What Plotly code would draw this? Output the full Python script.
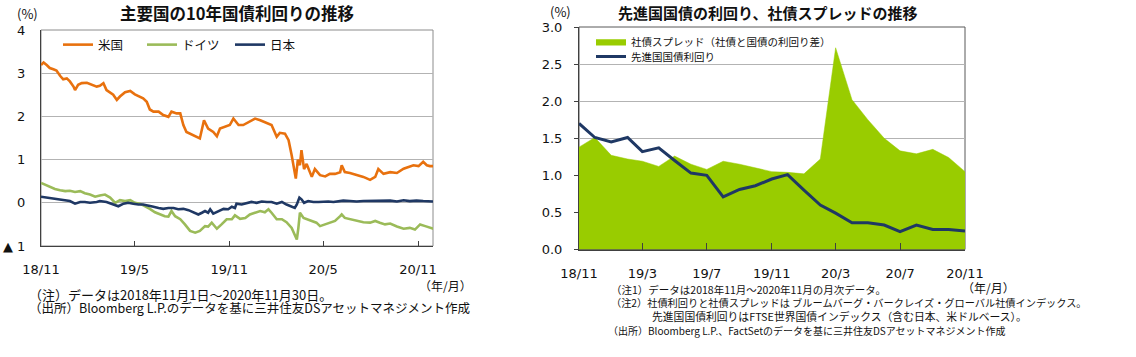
import pandas as pd
import plotly.graph_objects as go

# ---------------- Left chart data (days since 2018-11-01, yield %) ----------------
us_days = [0,5,11,17,24,30,37,43,50,56,63,66,72,79,89,98,108,114,121,127,140,147,153,163,173,182,192,198,205,211,218,228,237,247,253,263,270,276,282,289,299,308,316,324,334,341,347,357,366,373,383,392,405,415,425,438,447,457,463,473,480,486,490,494,498,502,505,510,515,525,531,541,551,560,570,580,583,589,599,612,625,638,648,654,664,677,690,703,712,722,732,741,748,754,761]
us_vals = [3.19,3.25,3.19,3.12,3.09,3.06,2.94,2.86,2.88,2.81,2.69,2.61,2.73,2.77,2.78,2.74,2.69,2.71,2.77,2.61,2.50,2.38,2.46,2.56,2.59,2.51,2.46,2.42,2.34,2.16,2.11,2.11,2.03,1.99,2.11,2.07,2.07,1.80,1.64,1.60,1.53,1.49,1.91,1.72,1.64,1.54,1.72,1.76,1.80,1.95,1.80,1.80,1.88,1.95,1.91,1.84,1.80,1.53,1.62,1.60,1.45,1.10,0.83,0.56,1.00,0.87,1.22,0.78,0.90,0.60,0.78,0.64,0.61,0.67,0.67,0.71,0.87,0.71,0.69,0.64,0.60,0.53,0.60,0.78,0.67,0.71,0.69,0.79,0.83,0.87,0.85,0.95,0.87,0.85,0.85]

de_days = [0,8,17,27,37,47,56,66,76,85,95,105,114,124,134,144,153,163,173,182,192,202,211,221,231,240,247,253,260,270,279,289,299,308,318,324,331,341,350,360,370,376,386,396,405,415,425,434,441,447,457,467,476,486,492,496,499,502,509,515,525,534,541,551,560,570,580,583,589,599,612,625,638,648,657,667,677,690,703,715,725,735,745,754,761]
de_vals = [0.46,0.42,0.37,0.32,0.29,0.27,0.28,0.25,0.27,0.22,0.19,0.14,0.17,0.19,0.12,0.00,0.06,0.04,0.06,0.00,-0.02,-0.08,-0.14,-0.22,-0.27,-0.31,-0.32,-0.19,-0.31,-0.38,-0.50,-0.65,-0.69,-0.65,-0.54,-0.55,-0.46,-0.60,-0.50,-0.38,-0.38,-0.29,-0.37,-0.35,-0.27,-0.23,-0.19,-0.22,-0.15,-0.23,-0.38,-0.38,-0.45,-0.58,-0.77,-0.85,-0.58,-0.23,-0.35,-0.38,-0.42,-0.46,-0.54,-0.50,-0.46,-0.42,-0.31,-0.27,-0.35,-0.38,-0.42,-0.45,-0.46,-0.42,-0.46,-0.50,-0.48,-0.55,-0.60,-0.58,-0.62,-0.50,-0.54,-0.58,-0.60]

jp_days = [0,11,21,30,43,56,66,76,85,95,108,114,127,140,150,160,169,179,189,198,208,218,228,237,247,257,266,276,286,295,305,312,318,324,328,334,344,354,363,370,376,379,389,399,408,418,428,438,447,457,467,476,486,492,496,501,505,510,518,528,538,547,557,567,576,586,599,612,625,638,651,664,677,690,703,715,728,741,754,761]
jp_vals = [0.14,0.12,0.09,0.08,0.06,0.04,-0.02,0.02,0.02,0.00,0.02,0.04,0.02,-0.04,-0.08,-0.02,0.00,-0.02,-0.04,-0.04,-0.06,-0.09,-0.12,-0.14,-0.12,-0.12,-0.15,-0.14,-0.17,-0.22,-0.27,-0.23,-0.19,-0.23,-0.15,-0.25,-0.19,-0.14,-0.15,-0.09,-0.12,-0.02,-0.04,0.00,0.02,0.00,0.03,0.02,0.02,-0.02,0.02,-0.04,-0.08,-0.12,-0.04,0.12,0.08,0.00,0.04,0.02,0.02,0.03,0.03,0.02,0.04,0.05,0.04,0.03,0.04,0.04,0.05,0.04,0.05,0.03,0.06,0.04,0.05,0.04,0.03,0.03]

left_start = "2018-11-01"
left_end = "2020-11-30"
left_tickvals = ["2018-11-01", "2019-05-01", "2019-11-01", "2020-05-01", "2020-11-01"]
left_ticktext = ["18/11", "19/5", "19/11", "20/5", "20/11"]
left_yvals = [-1, 0, 1, 2, 3, 4]
left_ytext = ["▲ 1", "0", "1", "2", "3", "4"]

# ---------------- Right chart data (monthly) ----------------
months = ["2018-11","2018-12","2019-01","2019-02","2019-03","2019-04","2019-05","2019-06","2019-07","2019-08","2019-09","2019-10","2019-11","2019-12","2020-01","2020-02","2020-03","2020-04","2020-05","2020-06","2020-07","2020-08","2020-09","2020-10","2020-11"]
spread = [1.38,1.51,1.27,1.22,1.19,1.12,1.26,1.15,1.08,1.19,1.15,1.10,1.05,1.04,1.02,1.22,2.72,2.02,1.75,1.50,1.33,1.29,1.35,1.24,1.05]
gov_yield = [1.70,1.51,1.45,1.51,1.32,1.37,1.20,1.03,1.00,0.71,0.81,0.86,0.95,1.01,0.80,0.60,0.49,0.36,0.36,0.33,0.24,0.33,0.27,0.27,0.25]
right_tickvals = ["2018-11","2019-03","2019-07","2019-11","2020-03","2020-07","2020-11"]
right_ticktext = ["18/11","19/3","19/7","19/11","20/3","20/7","20/11"]

FONT = "Noto Sans CJK JP"
TICKFONT = dict(family="DejaVu Sans", size=13, color="#111111")
ORANGE = "#E8710E"
GREEN = "#9BBB59"
NAVY = "#1F3864"
AREA = "#99CC00"
GRID = "#B3B3B3"
AXIS = "#404040"

start = pd.Timestamp(left_start)
to_dates = lambda d: [start + pd.Timedelta(days=int(x)) for x in d]

fig = go.Figure()
fig.add_trace(go.Scatter(x=to_dates(us_days), y=us_vals, mode="lines", name="米国",
                         line=dict(color=ORANGE, width=2.6), xaxis="x", yaxis="y", legend="legend"))
fig.add_trace(go.Scatter(x=to_dates(de_days), y=de_vals, mode="lines", name="ドイツ",
                         line=dict(color=GREEN, width=2.6), xaxis="x", yaxis="y", legend="legend3"))
fig.add_trace(go.Scatter(x=to_dates(jp_days), y=jp_vals, mode="lines", name="日本",
                         line=dict(color=NAVY, width=2.6), xaxis="x", yaxis="y", legend="legend4"))

fig.add_trace(go.Scatter(x=months, y=spread, mode="lines", name="社債スプレッド（社債と国債の利回り差）",
                         fill="tozeroy", fillcolor=AREA, line=dict(color=AREA, width=0.5),
                         xaxis="x2", yaxis="y2", legend="legend2"))
fig.add_trace(go.Scatter(x=months, y=gov_yield, mode="lines", name="先進国国債利回り",
                         line=dict(color=NAVY, width=3), xaxis="x2", yaxis="y2", legend="legend5"))

W, H = 1136, 357
def px_x(p): return p / W
def px_y(p): return 1 - p / H

def leg(x, y, size):
    return dict(orientation="v", x=px_x(x), y=px_y(y), xanchor="left", yanchor="top",
                bgcolor="rgba(0,0,0,0)", font=dict(family=FONT, size=size, color="#111111"),
                itemwidth=30, tracegroupgap=0)

fig.update_layout(
    width=W, height=H, margin=dict(l=0, r=0, t=0, b=0, autoexpand=False),
    paper_bgcolor="white", plot_bgcolor="white",
    font=dict(family=FONT, size=14, color="#111111"),
    showlegend=True,
    xaxis=dict(domain=[px_x(41), px_x(433)], type="date", range=[left_start, left_end],
               tickvals=left_tickvals, ticktext=left_ticktext, ticks="inside", ticklen=5,
               tickcolor=AXIS, showline=True, linecolor=AXIS, linewidth=1, showgrid=False,
               zeroline=False, ticklabelstandoff=11, anchor="y", automargin=False, tickfont=TICKFONT),
    yaxis=dict(domain=[px_y(246), px_y(30)], range=[-1, 4], tickvals=left_yvals, ticktext=left_ytext,
               showline=True, linecolor=AXIS, linewidth=1, showgrid=True, gridcolor=GRID,
               zeroline=False, ticks="", ticklabelstandoff=12, anchor="x", automargin=False,
               tickfont=TICKFONT),
    xaxis2=dict(domain=[px_x(579), px_x(965)], type="date", range=["2018-11-01", "2020-11-01"],
                tickvals=right_tickvals, ticktext=right_ticktext, ticks="inside", ticklen=7,
                tickcolor=AXIS, showline=True, linecolor=AXIS, linewidth=1, showgrid=False,
                zeroline=False, ticklabelstandoff=12, anchor="y2", automargin=False, tickfont=TICKFONT),
    yaxis2=dict(domain=[px_y(249.5), px_y(27)], range=[0, 3], dtick=0.5, tickformat=".1f",
                showline=True, linecolor=AXIS, linewidth=1, showgrid=True, gridcolor=GRID,
                zeroline=False, ticks="outside", ticklen=4, tickcolor=AXIS, ticklabelstandoff=9,
                anchor="x2", automargin=False, tickfont=TICKFONT),
    legend=leg(58, 30, 12.5),
    legend3=leg(142, 30, 12.5),
    legend4=leg(230, 30, 12.5),
    legend2=leg(591, 27, 10.5),
    legend5=leg(591, 42, 10.5),
    shapes=[
        dict(type="rect", xref="x domain", yref="y domain", x0=0, x1=1, y0=0, y1=1,
             line=dict(color="#8C8C8C", width=1), layer="below"),
        dict(type="rect", xref="x2 domain", yref="y2 domain", x0=0, x1=1, y0=0, y1=1,
             line=dict(color="#595959", width=1), layer="below"),
    ],
)

ann = []
def text(x, y, s, size=13, bold=False, anchor="left"):
    ann.append(dict(x=px_x(x), y=px_y(y), xref="paper", yref="paper", text=("<b>%s</b>" % s) if bold else s,
                    showarrow=False, xanchor=anchor, yanchor="middle", align=anchor,
                    font=dict(family=FONT, size=size, color="#111111")))

text(237, 13, "主要国の10年国債利回りの推移", size=16.5, bold=True, anchor="center")
text(767, 13, "先進国国債の利回り、社債スプレッドの推移", size=15, bold=True, anchor="center")
text(28, 14, "(%)", size=13, anchor="center")
text(560, 12, "(%)", size=13, anchor="center")
text(445, 285, "（年/月）", size=12, anchor="center")
text(988, 287, "（年/月）", size=12, anchor="center")
text(27, 294, "（注）データは2018年11月1日～2020年11月30日。", size=13)
text(27, 307, "（出所）Bloomberg L.P.のデータを基に三井住友DSアセットマネジメント作成", size=12.5)
text(609, 289, "（注1）データは2018年11月～2020年11月の月次データ。", size=10.5)
text(609, 302.5, "（注2）社債利回りと社債スプレッドは ブルームバーグ・バークレイズ・グローバル社債インデックス。", size=10.2)
text(650, 316, "先進国国債利回りはFTSE世界国債インデックス（含む日本、米ドルベース）。", size=10.8)
text(606, 330, "（出所）Bloomberg L.P.、FactSetのデータを基に三井住友DSアセットマネジメント作成", size=10)
fig.update_layout(annotations=ann)

fig.write_html("out.html", config={"displayModeBar": False},
               post_script="document.body.style.margin='0';")
